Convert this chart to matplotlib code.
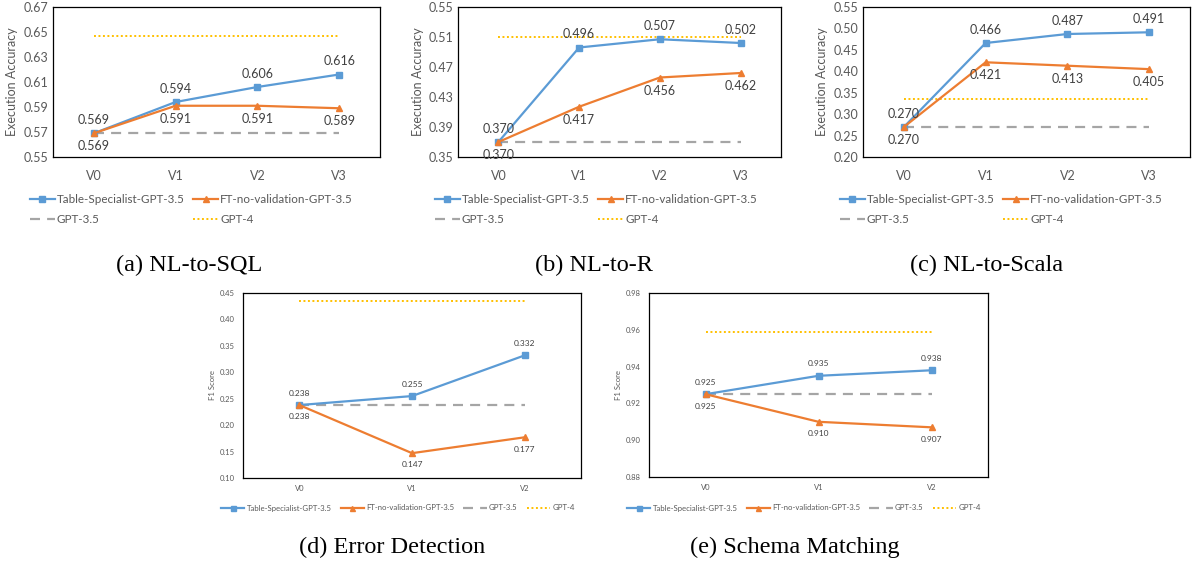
import matplotlib
matplotlib.use('Agg')
import matplotlib.pyplot as plt
import numpy as np

# ---------------- data ----------------
cats4 = ['V0', 'V1', 'V2', 'V3']
cats3 = ['V0', 'V1', 'V2']

sql_ts = [0.569, 0.594, 0.606, 0.616]
sql_ft = [0.569, 0.591, 0.591, 0.589]
sql_gpt35 = 0.569
sql_gpt4 = 0.647

r_ts = [0.370, 0.496, 0.507, 0.502]
r_ft = [0.370, 0.417, 0.456, 0.462]
r_gpt35 = 0.370
r_gpt4 = 0.510

scala_ts = [0.270, 0.466, 0.487, 0.491]
scala_ft = [0.270, 0.421, 0.413, 0.405]
scala_gpt35 = 0.270
scala_gpt4 = 0.335

ed_ts = [0.238, 0.255, 0.332]
ed_ft = [0.238, 0.147, 0.177]
ed_gpt35 = 0.238
ed_gpt4 = 0.435

sm_ts = [0.925, 0.935, 0.938]
sm_ft = [0.925, 0.910, 0.907]
sm_gpt35 = 0.925
sm_gpt4 = 0.959

series_names = ['Table-Specialist-GPT-3.5', 'FT-no-validation-GPT-3.5', 'GPT-3.5', 'GPT-4']
captions = ['(a) NL-to-SQL', '(b) NL-to-R', '(c) NL-to-Scala', '(d) Error Detection', '(e) Schema Matching']

# ---------------- style ----------------
BLUE = '#5B9BD5'
ORANGE = '#ED7D31'
GRAY = '#A5A5A5'
GOLD = '#FFC000'
TXT = '#595959'
LBL = '#404040'
FONT = 'Lato'

plt.rcParams['font.family'] = [FONT, 'DejaVu Sans']

fig = plt.figure(figsize=(11.92, 5.68), dpi=100)


def fx(px):
    return px / 1192.0


def fy(py):
    return 1 - py / 568.0


def panel(rect, cats, ts, ft, g35, g4, yticks, ylabel, fs, tick_fs, lab_fs,
          ms, xpad, ypad, ylab_x, leg_anchor, ncol, leg_kw, lab_off):
    l, r, t, b = rect
    ax = fig.add_axes([fx(l), fy(b), fx(r - l), fy(t) - fy(b)])
    x = np.arange(len(cats))
    hts, = ax.plot(x, ts, color=BLUE, lw=1.6, marker='s', ms=ms, zorder=4)
    hft, = ax.plot(x, ft, color=ORANGE, lw=1.6, marker='^', ms=ms, zorder=4)
    h35, = ax.plot(x, [g35] * len(cats), color=GRAY, lw=1.6, ls=(0, (4.5, 3.2)), zorder=3)
    h4, = ax.plot(x, [g4] * len(cats), color=GOLD, lw=1.4, ls=(0, (1, 1.3)), zorder=3)
    for xi, v in zip(x, ts):
        ax.annotate(f'{v:.3f}', (xi, v), xytext=(0, lab_off), textcoords='offset points',
                    ha='center', va='center', fontsize=lab_fs, color=LBL, zorder=5)
    for xi, v in zip(x, ft):
        ax.annotate(f'{v:.3f}', (xi, v), xytext=(0, -lab_off), textcoords='offset points',
                    ha='center', va='center', fontsize=lab_fs, color=LBL, zorder=5)
    ax.set_xlim(-0.5, len(cats) - 0.5)
    ax.set_ylim(yticks[0], yticks[-1])
    ax.set_xticks(x)
    ax.set_xticklabels(cats)
    ax.set_yticks(yticks)
    ax.set_yticklabels([f'{v:.2f}' for v in yticks])
    ax.tick_params(axis='both', length=0, labelsize=tick_fs, labelcolor=TXT)
    ax.tick_params(axis='x', pad=xpad)
    ax.tick_params(axis='y', pad=ypad)
    for s in ax.spines.values():
        s.set_color('black')
        s.set_linewidth(0.9)
    ax.set_ylabel(ylabel, fontsize=tick_fs, color=TXT)
    ax.yaxis.set_label_coords(ylab_x, 0.5)
    handles = [hts, hft, h35, h4]
    if ncol == 2:
        order = [0, 2, 1, 3]
    else:
        order = [0, 1, 2, 3]
    leg = fig.legend([handles[i] for i in order], [series_names[i] for i in order],
                     loc='center left', bbox_to_anchor=leg_anchor, ncol=ncol, frameon=False,
                     fontsize=fs, borderpad=0, borderaxespad=0, **leg_kw)
    for tx in leg.get_texts():
        tx.set_color(TXT)
    return ax


top_kw = dict(handlelength=2.1, handletextpad=0.2, columnspacing=0.75, labelspacing=0.75, markerscale=0.8)
bot_kw = dict(handlelength=3.0, handletextpad=0.3, columnspacing=1.15, markerscale=0.8)

yt_a = np.round(np.arange(0.55, 0.6701, 0.02), 2)
yt_b = np.round(np.arange(0.35, 0.5501, 0.04), 2)
yt_c = np.round(np.arange(0.20, 0.5501, 0.05), 2)
yt_d = np.round(np.arange(0.10, 0.4501, 0.05), 2)
yt_e = np.round(np.arange(0.88, 0.9801, 0.02), 2)

panel((53, 380, 7, 157), cats4, sql_ts, sql_ft, sql_gpt35, sql_gpt4, yt_a, 'Execution Accuracy',
      8.4, 9, 9, 5, 9, 3, -0.107, (fx(30), fy(209.5)), 2, top_kw, 9.5)
panel((458, 781, 7, 157), cats4, r_ts, r_ft, r_gpt35, r_gpt4, yt_b, 'Execution Accuracy',
      8.4, 9, 9, 5, 9, 3, -0.106, (fx(435), fy(209.5)), 2, top_kw, 9.5)
panel((863, 1190, 7, 157), cats4, scala_ts, scala_ft, scala_gpt35, scala_gpt4, yt_c, 'Execution Accuracy',
      8.4, 9, 9, 5, 9, 3, -0.107, (fx(840), fy(209.5)), 2, top_kw, 9.5)
panel((243, 581, 293, 478), cats3, ed_ts, ed_ft, ed_gpt35, ed_gpt4, yt_d, 'F1 Score',
      5.6, 5.5, 6, 4.5, 5, 6, -0.080, (fx(221), fy(508)), 4, bot_kw, 8.5)
panel((649, 988, 293, 477), cats3, sm_ts, sm_ft, sm_gpt35, sm_gpt4, yt_e, 'F1 Score',
      5.6, 5.5, 6, 4.5, 5, 6, -0.079, (fx(627), fy(508)), 4, bot_kw, 8.5)

cap_pos = [(189, 265), (594, 265), (987, 265), (392, 547), (795, 547)]
for (cx, cy), c in zip(cap_pos, captions):
    fig.text(fx(cx), fy(cy), c, ha='center', va='center', fontsize=17.5,
             family=['Liberation Serif', 'DejaVu Serif'], color='black')

fig.savefig('out.png', dpi=100, facecolor='white')
